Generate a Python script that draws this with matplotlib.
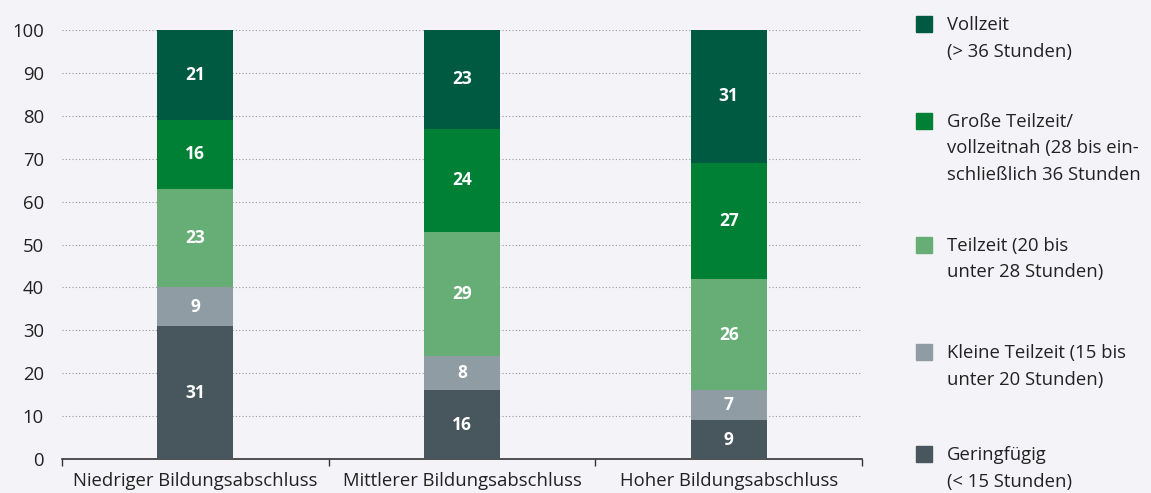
import numpy as np
import matplotlib as mlt
mlt.use('Agg')
from matplotlib import pyplot as plt
from matplotlib.patches import Rectangle

plt.rcParams['font.family'] = ['Open Sans', 'DejaVu Sans']

categories = ['Niedriger Bildungsabschluss', 'Mittlerer Bildungsabschluss', 'Hoher Bildungsabschluss']
# bottom to top
series = ['Geringfügig\n(< 15 Stunden)',
          'Kleine Teilzeit (15 bis\nunter 20 Stunden)',
          'Teilzeit (20 bis\nunter 28 Stunden)',
          'Große Teilzeit/\nvollzeitnah (28 bis ein-\nschließlich 36 Stunden',
          'Vollzeit\n(> 36 Stunden)']
geringfuegig = [31, 16, 9]
kleine_teilzeit = [9, 8, 7]
teilzeit = [23, 29, 26]
grosse_teilzeit = [16, 24, 27]
vollzeit = [21, 23, 31]
values = [geringfuegig, kleine_teilzeit, teilzeit, grosse_teilzeit, vollzeit]
colors = ['#48575e', '#8f9ca3', '#66ad76', '#008035', '#005a41']

bg = '#f4f3f7'
W, H = 1151, 493
fig = plt.figure(figsize=(W / 100, H / 100), dpi=100, facecolor=bg)
ax = fig.add_axes([62 / W, 34 / H, 800 / W, 429 / H], facecolor=bg)

x = np.arange(len(categories))
bottom = np.zeros(len(categories))
for vals, col in zip(values, colors):
    vals = np.array(vals, dtype=float)
    ax.bar(x, vals, 0.285, bottom=bottom, color=col, zorder=3)
    for xi, b, v in zip(x, bottom, vals):
        ax.text(xi, b + v / 2, '%d' % v, ha='center', va='center', color='white',
                fontsize=12.5, fontweight='bold', zorder=4)
    bottom += vals

ax.set_xlim(-0.5, 2.5)
ax.set_ylim(0, 100)
ax.set_yticks(np.arange(0, 101, 10))
ax.set_xticks(x)
ax.set_xticklabels(categories, fontsize=13.3, color='#222222')
ax.set_xticks([-0.5, 0.5, 1.5, 2.5], minor=True)
ax.tick_params(axis='x', which='major', length=0, pad=9)
ax.tick_params(axis='x', which='minor', length=5, width=1, color='#333333')
ax.tick_params(axis='y', length=0, labelsize=13.3, labelcolor='#222222', pad=13)
for y in range(10, 101, 10):
    ax.axhline(y, color='#999999', lw=0.8, ls=(0, (1, 2)), zorder=1)
for s in ['top', 'right', 'left']:
    ax.spines[s].set_visible(False)
ax.spines['bottom'].set_color('#333333')
ax.spines['bottom'].set_linewidth(1.2)

# legend, top to bottom
sq_tops = [16, 113, 237, 344, 446]
for lab, col, top in zip(series[::-1], colors[::-1], sq_tops):
    fig.patches.append(Rectangle((916 / W, 1 - (top + 16) / H), 16 / W, 16 / H,
                                 transform=fig.transFigure, color=col))
    for i, line in enumerate(lab.split('\n')):
        yc = top + 9 + i * 26.5
        fig.text(947 / W, 1 - yc / H, line, ha='left', va='center',
                 fontsize=13.3, color='#222222')

plt.savefig('out.png', dpi=100, facecolor=bg)
